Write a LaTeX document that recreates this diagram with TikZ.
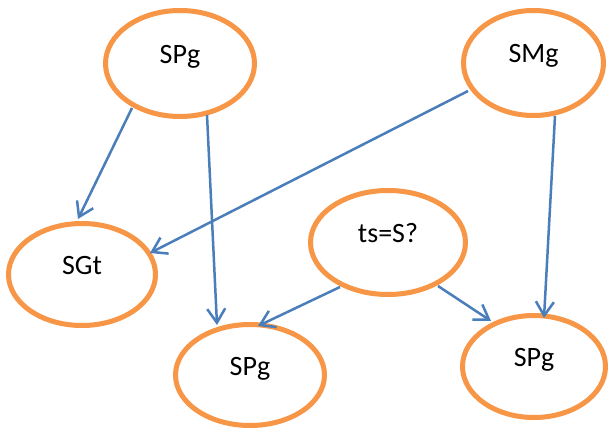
\documentclass[tikz,border=0pt]{standalone}
\usepackage{fontspec}
\setmainfont{Carlito}
\usetikzlibrary{shapes.geometric,arrows.meta}
\definecolor{eorange}{HTML}{F79646}
\definecolor{ablue}{HTML}{4A7EBB}
\begin{document}
\begin{tikzpicture}[x=1pt,y=-1pt,
  ell/.style={draw=eorange,line width=5pt,fill=white,ellipse,inner sep=0pt,
    font=\fontsize{28}{32}\selectfont},
  conn/.style={draw=ablue,line width=2.5pt,-{Straight Barb[length=14pt,width=18pt]}}]
\useasboundingbox[fill=white] (0,0) rectangle (608,430);
\node[ell,minimum width=149pt,minimum height=106pt] (spt) at (180,63.5) {\smash{SPg}};
\node[ell,minimum width=140pt,minimum height=105pt] (smg) at (533.5,63) {\smash{SMg}};
\node[ell,minimum width=147pt,minimum height=102pt] (sgt) at (82,274.5) {\smash{SGt}};
\node[ell,minimum width=155pt,minimum height=104pt] (ts) at (388,242.5) {\smash{ts=S?}};
\node[ell,minimum width=149pt,minimum height=101pt] (spl) at (250,375) {\smash{SPg}};
\node[ell,minimum width=143pt,minimum height=102pt] (spr) at (534,366.5) {\smash{SPg}};
\draw[conn] ([shift={(-48,44.5)}]spt.center) -- ([shift={(-4,-55.5)}]sgt.center);
\draw[conn] ([shift={(27,51.5)}]spt.center) -- ([shift={(-33,-50)}]spl.center);
\draw[conn] ([shift={(-65.5,28)}]smg.center) -- ([shift={(68,-21.5)}]sgt.center);
\draw[conn] ([shift={(21.5,53)}]smg.center) -- ([shift={(10,-48.5)}]spr.center);
\draw[conn] ([shift={(-48,44.5)}]ts.center) -- ([shift={(8,-49)}]spl.center);
\draw[conn] ([shift={(50,43.5)}]ts.center) -- ([shift={(-43,-45.5)}]spr.center);
\end{tikzpicture}
\end{document}
